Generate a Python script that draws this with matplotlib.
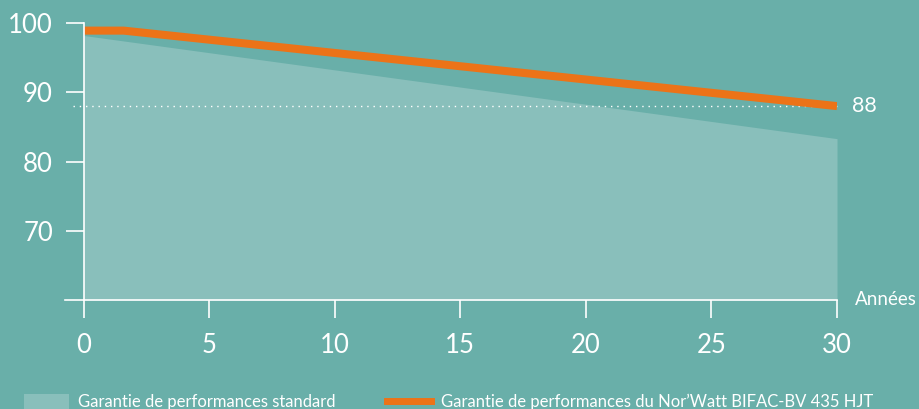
import matplotlib
matplotlib.use('Agg')
import matplotlib.pyplot as plt
from matplotlib.lines import Line2D
from matplotlib.patches import Rectangle

# data
years_std = [0, 30]
perf_std = [98.2, 83.3]
years_hjt = [0, 1.6, 30]
perf_hjt = [98.9, 98.9, 88]
guarantee_end = 88
y_ticks = [70, 80, 90, 100]
x_ticks = [0, 5, 10, 15, 20, 25, 30]
label_std = "Garantie de performances standard"
label_hjt = "Garantie de performances du Nor\u2019Watt BIFAC-BV 435 HJT"

BG = '#69afa9'
FILL = '#89bfbb'
ORANGE = '#ec7318'
WHITE = '#ffffff'

plt.rcParams['font.family'] = ['Lato', 'DejaVu Sans']

fig = plt.figure(figsize=(9.19, 4.09), dpi=100, facecolor=BG)
W, H = 919, 409
ax = fig.add_axes([83.5 / W, 1 - 300 / H, (837 - 83.5) / W, 277 / H])
ax.set_facecolor(BG)
ax.set_xlim(0, 30)
ax.set_ylim(60, 100)

ax.fill_between(years_std, perf_std, 60, color=FILL, lw=0, zorder=1)
ax.plot([-0.42, 30], [guarantee_end, guarantee_end], color=WHITE, lw=1,
        linestyle=(0, (1, 3.5)), clip_on=False, zorder=2)
ax.plot(years_hjt, perf_hjt, color=ORANGE, lw=5.8, solid_capstyle='butt', zorder=3)

for s in ['top', 'right']:
    ax.spines[s].set_visible(False)
ax.spines['left'].set_color(WHITE)
ax.spines['bottom'].set_color(WHITE)
ax.spines['left'].set_linewidth(1.2)
ax.spines['bottom'].set_linewidth(1.2)
ax.spines['left'].set_zorder(4)

ax.set_yticks(y_ticks)
ax.set_xticks(x_ticks)
ax.tick_params(axis='y', length=13, width=1.2, color=WHITE, labelcolor=WHITE,
               labelsize=18.5, pad=9)
ax.tick_params(axis='x', length=13, width=1.2, color=WHITE, labelcolor=WHITE,
               labelsize=18.5, pad=10.5)

# bottom axis line extends left past the y axis
ax.plot([-0.74, 0], [60, 60], color=WHITE, lw=1.2, clip_on=False)

ax.text(30.7, 60, "Ann\u00e9es", color=WHITE, fontsize=13.5, va='center', ha='left')
ax.text(30.6, guarantee_end, str(guarantee_end), color=WHITE, fontsize=15.5,
        va='center', ha='left')

# legend drawn by hand at the bottom edge
fig.patches.append(Rectangle((24 / W, 0), 45 / W, 15 / H, transform=fig.transFigure,
                             color=FILL, lw=0))
fig.text(78 / W, 1 - 402 / H, label_std, color=WHITE, fontsize=12, va='center')
fig.lines.append(Line2D([387 / W, 431 / W], [1 - 401 / H] * 2, transform=fig.transFigure,
                        color=ORANGE, lw=5))
fig.text(441 / W, 1 - 402 / H, label_hjt, color=WHITE, fontsize=12, va='center')

fig.savefig('out.png', dpi=100, facecolor=BG)
